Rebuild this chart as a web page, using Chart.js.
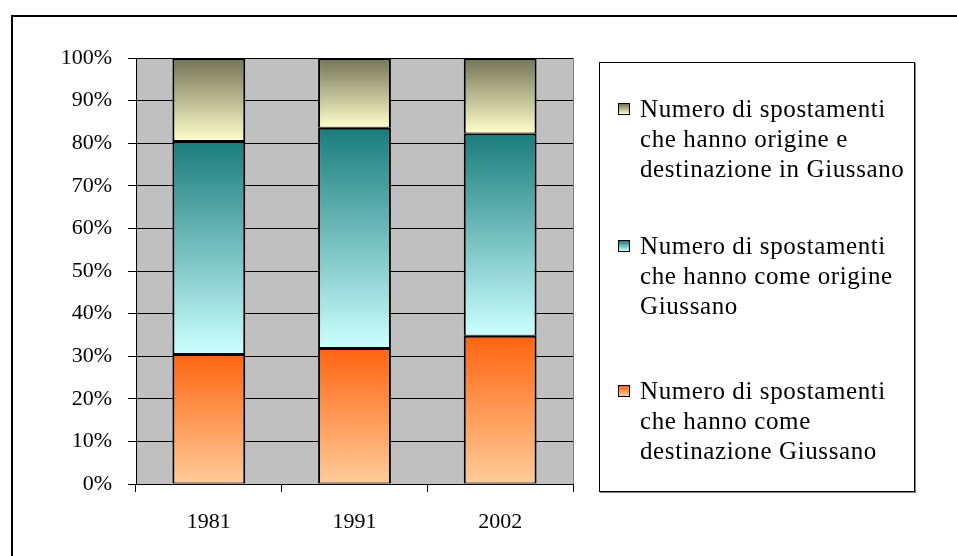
<!DOCTYPE html>
<html>
<head>
<meta charset="utf-8">
<script src="https://cdn.jsdelivr.net/npm/chart.js@4/dist/chart.umd.min.js"></script>
<style>
  html, body { margin: 0; padding: 0; background: #fff; overflow: hidden; }
  #wrap { position: relative; width: 957px; height: 556px; }
  #frame { position: absolute; left: 11px; top: 15px; width: 1000px; height: 600px;
           border-left: 2px solid #000; border-top: 2px solid #000; box-sizing: border-box; }
  canvas { position: absolute; left: 0; top: 0; }
  #legend { position: absolute; left: 599px; top: 62px; width: 316px; height: 430px;
            border: 1px solid #000; box-sizing: border-box; background: #fff;
            box-shadow: 1px 1px 0 #808080; font-family: "Liberation Serif", "Times New Roman", serif; }
  .item { position: absolute; left: 18px; font-size: 25px; line-height: 30px; color: #000; letter-spacing: 0.6px; }
  .mk { position: absolute; left: 0; top: 9px; width: 12px; height: 12px; border: 1px solid #000; box-sizing: border-box; }
  .txt { margin-left: 22px; white-space: pre; }
</style>
</head>
<body>
<div id="wrap">
  <div id="frame"></div>
  <canvas id="c" width="957" height="556"></canvas>
  <div id="legend"></div>
</div>
<script>
// ---- data ----
const categories = ['1981', '1991', '2002'];
const destinazione = [30.5, 31.9, 34.8];   // bottom (orange)
const origine = [50.0, 51.7, 47.5];        // middle (teal)
const interni = [19.5, 16.4, 17.7];        // top (olive/yellow)
const yTicks = [0, 10, 20, 30, 40, 50, 60, 70, 80, 90, 100];
const seriesLabels = [
  'Numero di spostamenti\nche hanno come\ndestinazione Giussano',
  'Numero di spostamenti\nche hanno come origine\nGiussano',
  'Numero di spostamenti\nche hanno origine e\ndestinazione in Giussano'
];
const gradColors = [
  ['#FF6410', '#FFCC99'],
  ['#1A7C7C', '#CCFFFF'],
  ['#737357', '#FFFFCC']
];
const seriesData = [destinazione, origine, interni];

function gradFill(di) {
  return function (ctx) {
    const chart = ctx.chart;
    const y = chart.scales && chart.scales.y;
    if (ctx.type !== 'data' || !y || !chart.chartArea) return gradColors[di][0];
    const i = ctx.dataIndex;
    let base = 0;
    for (let k = 0; k < di; k++) base += seriesData[k][i];
    const top = base + seriesData[di][i];
    const y0 = y.getPixelForValue(top), y1 = y.getPixelForValue(base);
    const g = chart.ctx.createLinearGradient(0, y0, 0, y1);
    g.addColorStop(0, gradColors[di][0]);
    g.addColorStop(1, gradColors[di][1]);
    return g;
  };
}

const plotBg = {
  id: 'plotBg',
  beforeDraw(chart) {
    const a = chart.chartArea, c = chart.ctx;
    c.save();
    c.fillStyle = '#C0C0C0';
    c.fillRect(a.left, a.top, a.right - a.left, a.bottom - a.top);
    c.restore();
  },
  beforeDatasetsDraw(chart) {
    const a = chart.chartArea, c = chart.ctx;
    c.save();
    c.strokeStyle = '#808080';
    c.lineWidth = 1;
    c.beginPath();
    c.moveTo(Math.round(a.right) + 0.5, a.top);
    c.lineTo(Math.round(a.right) + 0.5, a.bottom);
    c.stroke();
    c.restore();
  }
};

const fontFam = '"Liberation Serif", "Times New Roman", serif';

new Chart(document.getElementById('c'), {
  type: 'bar',
  data: {
    labels: categories,
    datasets: seriesData.map((d, di) => ({
      label: seriesLabels[di],
      data: d,
      backgroundColor: gradFill(di),
      borderColor: '#000',
      borderWidth: { top: 2, left: 2, right: 2, bottom: 1 },
      borderSkipped: false,
      categoryPercentage: 0.5,
      barPercentage: 1.0
    }))
  },
  options: {
    responsive: false,
    animation: false,
    devicePixelRatio: 1,
    layout: { padding: { left: 0, top: 58, right: 384, bottom: 0 } },
    plugins: { legend: { display: false }, tooltip: { enabled: false } },
    scales: {
      x: {
        stacked: true,
        grid: { display: true, drawOnChartArea: false, drawTicks: true, tickLength: 8, color: '#000', offset: true },
        border: { display: true, color: '#000', width: 1 },
        ticks: { color: '#000', font: { family: fontFam, size: 22 }, padding: 17, maxRotation: 0 },
        afterFit(s) { s.height = 72; }
      },
      y: {
        stacked: true,
        min: 0, max: 100,
        afterBuildTicks(s) { s.ticks = yTicks.map(v => ({ value: v })); },
        grid: { display: true, color: '#000', lineWidth: 1, drawTicks: true, tickLength: 8 },
        border: { display: true, color: '#000', width: 1 },
        ticks: { color: '#000', font: { family: fontFam, size: 22 }, padding: 16, callback: v => v + '%' },
        afterFit(s) { s.width = 136; }
      }
    }
  },
  plugins: [plotBg]
});

// HTML legend (top series first)
const legend = document.getElementById('legend');
const itemTops = [31, 168, 313];
[2, 1, 0].forEach((di, k) => {
  const it = document.createElement('div');
  it.className = 'item';
  it.style.top = itemTops[k] + 'px';
  const mk = document.createElement('div');
  mk.className = 'mk';
  mk.style.background = 'linear-gradient(to bottom,' + gradColors[di][0] + ',' + gradColors[di][1] + ')';
  const tx = document.createElement('div');
  tx.className = 'txt';
  tx.textContent = seriesLabels[di];
  it.appendChild(mk); it.appendChild(tx);
  legend.appendChild(it);
});
</script>
</body>
</html>
